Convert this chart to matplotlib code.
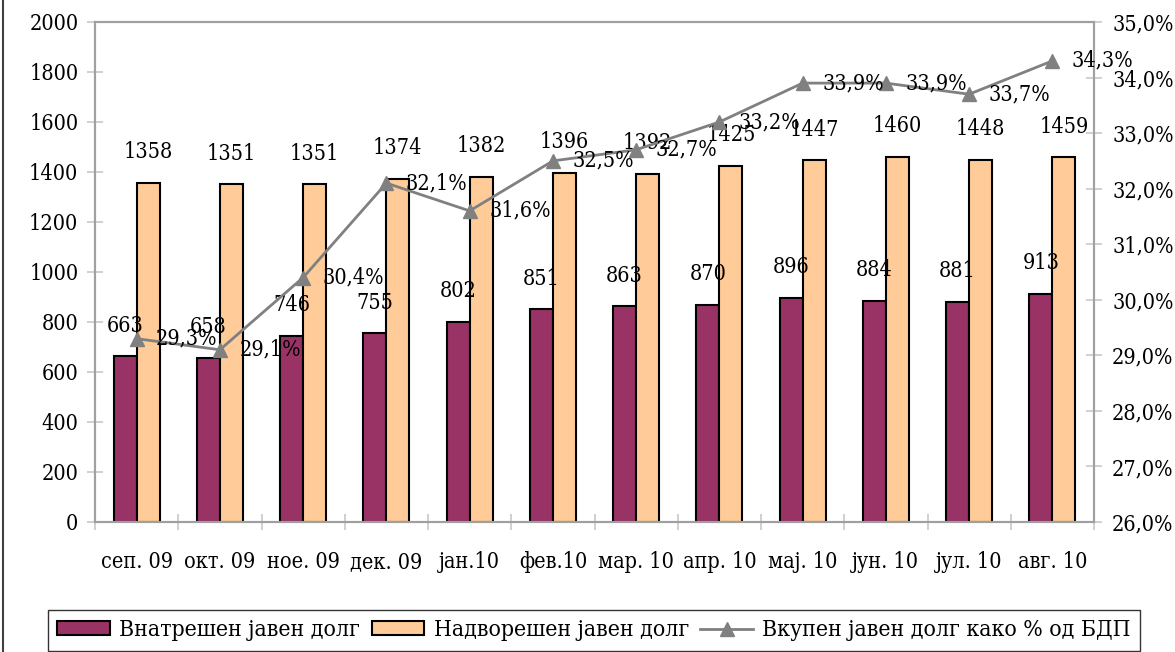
import matplotlib
matplotlib.use("Agg")
import matplotlib.pyplot as plt
from matplotlib.patches import Patch
from matplotlib.lines import Line2D
import numpy as np

categories = ["сеп. 09", "окт. 09", "ное. 09", "дек. 09", "јан.10", "фев.10",
              "мар. 10", "апр. 10", "мај. 10", "јун. 10", "јул. 10", "авг. 10"]
domestic = [663, 658, 746, 755, 802, 851, 863, 870, 896, 884, 881, 913]
external = [1358, 1351, 1351, 1374, 1382, 1396, 1392, 1425, 1447, 1460, 1448, 1459]
pct_gdp = [29.3, 29.1, 30.4, 32.1, 31.6, 32.5, 32.7, 33.2, 33.9, 33.9, 33.7, 34.3]

series_names = ["Внатрешен јавен долг", "Надворешен јавен долг", "Вкупен јавен долг како % од БДП"]

plt.rcParams['font.family'] = ['DejaVu Serif', 'Liberation Serif']
plt.rcParams['font.stretch'] = 'condensed'
FS = 15.5
LFS = 16.5

c_dom = "#993366"
c_ext = "#FFCC99"
c_line = "#808080"
c_axis = "#A0A0A0"
c_tick = "#C8C8C8"

fig = plt.figure(figsize=(11.75, 6.52), dpi=100)
ax = fig.add_axes([95/1175, 1-522/652, (1094-95)/1175, (522-22)/652])
ax2 = ax.twinx()

x = np.arange(len(categories))
w = 0.275
ax.bar(x - w/2, domestic, width=w, color=c_dom, edgecolor="black", linewidth=1.5, zorder=2)
ax.bar(x + w/2, external, width=w, color=c_ext, edgecolor="black", linewidth=1.5, zorder=2)

for xi, v in zip(x, domestic):
    ax.annotate(str(v), (xi - w/2, v), xytext=(0, 22), textcoords="offset points",
                ha="center", va="center", fontsize=FS, zorder=5)
for xi, v in zip(x, external):
    ax.annotate(str(v), (xi + w/2, v), xytext=(0, 22), textcoords="offset points",
                ha="center", va="center", fontsize=FS, zorder=5)

ax.set_xlim(-0.5, len(categories) - 0.5)
ax.set_ylim(0, 2000)
ax.set_yticks(np.arange(0, 2001, 200))
ax.set_xticks(x)
ax.set_xticklabels(categories, fontsize=FS)
for t in ax.get_xticklabels():
    t.set_verticalalignment("baseline")
ax.set_xticks(np.arange(-0.5, len(categories), 1), minor=True)
ax.tick_params(axis="x", which="major", length=0, pad=33)
ax.tick_params(axis="x", which="minor", direction="inout", length=12, color=c_tick, width=1.2)
ax.tick_params(axis="y", direction="inout", length=12, color=c_tick, width=1.2, labelsize=FS, pad=6)

ax2.plot(x, pct_gdp, color=c_line, linewidth=2, marker="^", markersize=10,
         markerfacecolor=c_line, markeredgecolor=c_line, zorder=4)
for xi, v in zip(x, pct_gdp):
    ax2.annotate(f"{v:.1f}%".replace(".", ","), (xi, v), xytext=(14, 0),
                 textcoords="offset points", ha="left", va="center", fontsize=FS, zorder=5)
ax2.set_ylim(26, 35)
ax2.set_yticks(np.arange(26, 35.01, 1))
ax2.set_yticklabels([f"{t:.1f}%".replace(".", ",") for t in np.arange(26, 35.01, 1)])
ax2.tick_params(axis="y", direction="inout", length=12, color=c_tick, width=1.2, labelsize=FS, pad=7)

for a in (ax, ax2):
    for s in a.spines.values():
        s.set_color(c_axis)
        s.set_linewidth(1.5)
ax.spines["top"].set_color("#707070")

handles = [Patch(facecolor=c_dom, edgecolor="black", linewidth=1.5),
           Patch(facecolor=c_ext, edgecolor="black", linewidth=1.5),
           Line2D([], [], color=c_line, linewidth=2, marker="^", markersize=10,
                  markerfacecolor=c_line, markeredgecolor=c_line)]
leg = fig.legend(handles, series_names, loc="lower center", bbox_to_anchor=(594/1175, 0.0),
                 ncol=3, fontsize=LFS, frameon=True, fancybox=False, edgecolor="black",
                 handlelength=2.3, handleheight=0.6, handletextpad=0.4, columnspacing=0.5,
                 borderpad=0.42, borderaxespad=0.05)
leg.get_frame().set_linewidth(1.0)

fig.add_artist(Line2D([3/1175, 3/1175], [0, 1], color="#404040", linewidth=1.5,
                      transform=fig.transFigure))

fig.savefig("out.png", dpi=100)
